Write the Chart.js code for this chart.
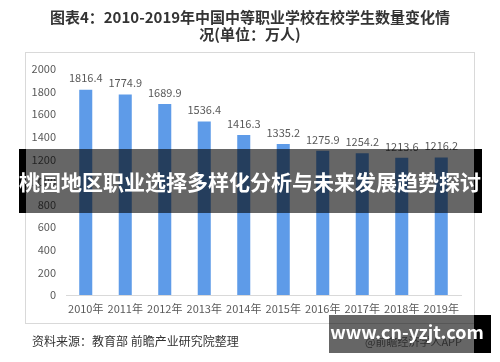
<!DOCTYPE html>
<html>
<head>
<meta charset="utf-8">
<script src="https://cdn.jsdelivr.net/npm/chart.js@4"></script>
<style>
  body { margin: 0; background: #fff; }
  #wrap { width: 500px; height: 362px; }
</style>
</head>
<body>
<div id="wrap"><canvas id="barChart" width="500" height="362"></canvas></div>
<script>
const years = ['2010年', '2011年', '2012年', '2013年', '2014年', '2015年', '2016年', '2017年', '2018年', '2019年'];
const students = [1816.4, 1774.9, 1689.9, 1536.4, 1416.3, 1335.2, 1275.9, 1254.2, 1213.6, 1216.2];
const yTicks = [0, 200, 400, 600, 800, 1000, 1200, 1400, 1600, 1800, 2000];

const titleLine1 = '图表4：2010-2019年中国中等职业学校在校学生数量变化情';
const titleLine2 = '况(单位：万人)';
const sourceText = '资料来源：教育部 前瞻产业研究院整理';
const bannerText = '桃园地区职业选择多样化分析与未来发展趋势探讨';
const siteText = 'www.cn-yzjt.com';

const FONT = '"Noto Sans CJK SC", "Noto Sans", sans-serif';

// white page, frame and title behind the chart
const backdrop = {
    id: 'backdrop',
    beforeDraw(chart) {
        const ctx = chart.ctx;
        ctx.save();
        ctx.fillStyle = '#fff';
        ctx.fillRect(0, 0, chart.width, chart.height);
        ctx.strokeStyle = '#d9d9d9';
        ctx.lineWidth = 1;
        ctx.strokeRect(25.5, 52.5, 449, 271);

        ctx.fillStyle = '#333';
        ctx.font = 'bold 15px ' + FONT;
        ctx.textAlign = 'center';
        ctx.textBaseline = 'middle';
        ctx.fillText(titleLine1, 250, 17);
        ctx.fillText(titleLine2, 250, 34);
        ctx.restore();
    }
};

// value labels, then the overlays on top
const overlays = {
    id: 'overlays',
    afterDraw(chart) {
        const ctx = chart.ctx;
        const meta = chart.getDatasetMeta(0);
        ctx.save();
        ctx.fillStyle = '#595959';
        ctx.font = '11px ' + FONT;
        ctx.textAlign = 'center';
        ctx.textBaseline = 'bottom';
        meta.data.forEach((bar, i) => {
            ctx.fillText(students[i].toFixed(1), bar.x, bar.y - 6);
        });

        // source line
        ctx.fillStyle = '#333';
        ctx.font = '12px ' + FONT;
        ctx.textAlign = 'left';
        ctx.textBaseline = 'middle';
        ctx.fillText(sourceText, 32, 341);
        ctx.fillStyle = '#777';
        ctx.font = '11px ' + FONT;
        ctx.fillText('@前瞻经济学人APP', 365, 342);

        // banner
        ctx.fillStyle = '#000';
        ctx.fillRect(19, 149, 7, 64);
        ctx.fillRect(474, 149, 8, 64);
        ctx.fillStyle = 'rgba(0,0,0,0.6)';
        ctx.fillRect(26, 149, 448, 64);
        ctx.fillStyle = '#fff';
        ctx.font = 'bold 21px ' + FONT;
        ctx.textAlign = 'center';
        ctx.fillText(bannerText, 250, 182);

        // site box
        ctx.fillStyle = 'rgba(0,0,0,0.6)';
        ctx.fillRect(329, 315, 145, 38);
        ctx.fillStyle = '#000';
        ctx.fillRect(474, 315, 17, 38);
        ctx.fillStyle = '#fff';
        ctx.font = 'bold 18px ' + FONT;
        ctx.fillText(siteText, 407, 332);
        ctx.restore();
    }
};

function renderBarChart() {
    const ctx = document.getElementById('barChart').getContext('2d');

    new Chart(ctx, {
        type: 'bar',
        data: {
            labels: years,
            datasets: [{
                label: '在校学生数量',
                data: students,
                backgroundColor: '#5e9be8',
                barPercentage: 0.33,
                categoryPercentage: 1
            }]
        },
        options: {
            responsive: false,
            animation: false,
            layout: { padding: { top: 69, right: 39, left: 0, bottom: 0 } },
            scales: {
                y: {
                    min: 0,
                    max: 2000,
                    afterFit: scale => { scale.width = 66; },
                    afterBuildTicks: scale => { scale.ticks = yTicks.map(v => ({ value: v })); },
                    border: { display: false },
                    grid: { display: false, drawTicks: false },
                    ticks: {
                        padding: 10,
                        color: '#595959',
                        font: { size: 11, family: FONT },
                        callback: value => String(value)
                    }
                },
                x: {
                    afterFit: scale => { scale.height = 67; },
                    border: { display: true, color: '#d9d9d9' },
                    grid: { display: false, drawTicks: false },
                    ticks: {
                        padding: 7,
                        maxRotation: 0,
                        autoSkip: false,
                        color: '#595959',
                        font: { size: 11, family: FONT }
                    }
                }
            },
            plugins: {
                legend: { display: false },
                tooltip: { enabled: false }
            }
        },
        plugins: [backdrop, overlays]
    });
}

renderBarChart();
</script>
</body>
</html>
